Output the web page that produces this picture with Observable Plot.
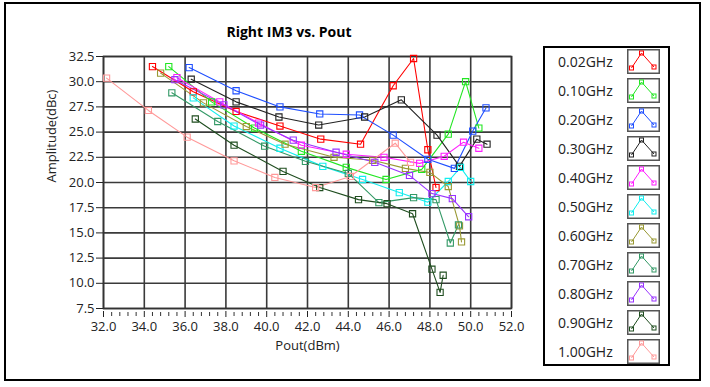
<!DOCTYPE html>
<html>
<head>
<meta charset="utf-8">
<script src="https://cdn.jsdelivr.net/npm/d3@7"></script>
<script src="https://cdn.jsdelivr.net/npm/@observablehq/plot@0.6"></script>
<style>
  html, body { margin: 0; padding: 0; background: #fff; }
  #wrap { position: relative; width: 710px; height: 387px; overflow: hidden; font-family: "Open Sans", sans-serif; }
  #outer { position: absolute; left: 4px; top: 2px; width: 697px; height: 379px; border: 2px solid #000; box-sizing: border-box; pointer-events: none; }
  #title { position: absolute; left: 0; width: 578px; top: 22px; text-align: center; font-weight: bold; font-size: 14px; color: #000; }
  #legend { position: absolute; left: 543px; top: 46px; width: 127px; height: 320px; border: 2px solid #000; box-sizing: border-box; background: #fff; }
  .row { position: absolute; left: 0; height: 24px; width: 125px; }
  .row span { position: absolute; left: 13px; top: 3px; font-size: 14px; color: #222; }
  .row svg { position: absolute; left: 82px; top: 0; }
  #chart { position: absolute; left: 0; top: 0; }
</style>
</head>
<body>
<div id="wrap">
  <div id="chart"></div>
  <div id="title">Right IM3 vs. Pout</div>
  <div id="legend"></div>
  <div id="outer"></div>
</div>
<script>
// ---- data ----
const freqs = ["0.02GHz","0.10GHz","0.20GHz","0.30GHz","0.40GHz","0.50GHz","0.60GHz","0.70GHz","0.80GHz","0.90GHz","1.00GHz"];
const colors = ["#ff0000","#22e622","#1f4fff","#222222","#ff1fff","#11eeee","#999933","#339966","#9933ff","#1f4d1f","#ff9999"];

const x002 = [34.4,36.4,38.5,40.65,42.65,44.6,46.2,47.2,47.9,48.3];
const y002 = [31.5,29.0,27.05,25.6,24.3,23.8,29.6,32.3,23.25,19.5];
const x010 = [35.2,37.3,39.4,41.7,43.9,45.85,47.6,48.9,49.75,50.4];
const y010 = [31.5,28.0,25.4,23.1,21.5,20.3,21.3,24.8,30.0,25.4];
const x020 = [36.2,38.5,40.65,42.6,44.55,46.2,47.9,49.2,50.1,50.75];
const y020 = [31.4,29.1,27.5,26.8,26.7,24.7,22.3,21.4,25.1,27.4];
const x030 = [36.3,38.5,40.6,42.55,44.8,46.6,48.35,49.45,50.3,50.8];
const y030 = [30.25,28.0,26.5,25.7,26.5,28.2,24.7,21.6,24.3,23.8];
const x040 = [35.6,37.7,39.6,41.7,43.9,45.75,47.5,48.7,49.65,50.4];
const y040 = [30.4,28.0,25.9,23.7,22.8,22.5,21.9,22.6,24.0,23.4];
const x050 = [36.4,38.4,40.65,42.75,44.7,46.5,47.9,48.9,49.5,50.0];
const y050 = [28.4,25.6,23.4,21.6,20.3,19.0,18.05,20.1,21.5,20.1];
const x060 = [34.8,36.9,39.0,40.9,43.3,45.2,46.8,48.0,48.9,49.45,49.55];
const y060 = [30.85,27.9,25.55,23.8,22.5,22.2,21.4,21.0,19.6,15.7,14.1];
const x070 = [35.35,37.6,39.9,41.9,44.0,45.5,47.2,48.3,49.0,49.4];
const y070 = [28.9,26.05,23.6,22.1,20.9,18.0,18.5,18.3,14.0,15.8];
const x080 = [35.5,37.9,39.7,41.3,43.4,45.3,47.0,48.1,49.1,49.9];
const y080 = [30.2,27.7,25.7,24.2,23.0,22.0,20.7,18.9,18.4,16.6];
const x090 = [36.5,38.4,40.8,42.6,44.5,45.9,47.15,48.1,48.5,48.65];
const y090 = [26.3,23.7,21.1,19.5,18.3,17.9,16.9,11.4,9.1,10.8];
const x100 = [32.15,34.2,36.1,38.4,40.4,42.4,44.1,46.3,47.05];
const y100 = [30.35,27.15,24.5,22.15,20.5,19.5,20.6,23.9,22.0];

const xMajor = [32,34,36,38,40,42,44,46,48,50,52];
const yMajor = [7.5,10,12.5,15,17.5,20,22.5,25,27.5,30,32.5];

// ---- build table ----
const xs = [x002,x010,x020,x030,x040,x050,x060,x070,x080,x090,x100];
const ys = [y002,y010,y020,y030,y040,y050,y060,y070,y080,y090,y100];
const rows = [];
freqs.forEach((f, i) => xs[i].forEach((x, j) => rows.push({series: f, x, y: ys[i][j]})));
const xMinor = d3.range(32, 52.001, 0.4).filter(v => Math.abs(v/2 - Math.round(v/2)) > 1e-6);

const chart = Plot.plot({
  width: 710, height: 387,
  marginLeft: 103, marginRight: 199, marginTop: 56, marginBottom: 79,
  style: {fontFamily: "'Open Sans', sans-serif", fontSize: "13px", color: "#222", background: "transparent"},
  x: {domain: [32, 52]},
  y: {domain: [7.5, 32.5]},
  color: {domain: freqs, range: colors},
  marks: [
    Plot.gridX(xMajor, {stroke: "#3a3a3a", strokeOpacity: 1, strokeWidth: 1.6}),
    Plot.gridY(yMajor, {stroke: "#3a3a3a", strokeOpacity: 1, strokeWidth: 1.6}),
    Plot.frame({stroke: "#333", strokeWidth: 1.6}),
    Plot.axisX(xMinor, {tickSize: 4, tickFormat: () => "", label: null, dy: 4, stroke: "#333"}),
    Plot.axisX(xMajor, {tickSize: 6, tickPadding: 4, dy: 3, tickFormat: d => d.toFixed(1), label: null, fill: "#222"}),
    Plot.axisY(yMajor, {tickSize: 7, tickPadding: 2, tickFormat: d => d.toFixed(1), label: null, fill: "#222"}),
    Plot.text(["Pout(dBm)"], {frameAnchor: "bottom", dy: 41, fontSize: 13, fill: "#222"}),
    Plot.text(["Amplitude(dBc)"], {frameAnchor: "left", dx: -52, rotate: -90, fontSize: 13, fill: "#222"}),
    Plot.line(rows, {x: "x", y: "y", z: "series", stroke: "series", strokeWidth: 1.1}),
    Plot.dot(rows, {x: "x", y: "y", stroke: "series", symbol: "square", r: 3.5, fill: "none", strokeWidth: 1.1})
  ]
});
document.getElementById("chart").appendChild(chart);

// ---- legend ----
const leg = document.getElementById("legend");
freqs.forEach((f, i) => {
  const row = document.createElement("div");
  row.className = "row";
  row.style.top = (1 + i * 29) + "px";
  const c = colors[i];
  row.innerHTML = `<span>${f}</span>
  <svg width="33" height="25" viewBox="0 0 33 25">
    <rect x="0.75" y="0.75" width="31.5" height="23.5" fill="#fff" stroke="#555" stroke-width="1.5"/>
    <polyline points="4.5,19 14.5,4 27,18" fill="none" stroke="${c}" stroke-width="1"/>
    <rect x="2.5" y="17" width="4" height="4" fill="none" stroke="${c}" stroke-width="1"/>
    <rect x="12.5" y="2" width="4" height="4" fill="none" stroke="${c}" stroke-width="1"/>
    <rect x="25" y="16" width="4" height="4" fill="none" stroke="${c}" stroke-width="1"/>
  </svg>`;
  leg.appendChild(row);
});
</script>
</body>
</html>
